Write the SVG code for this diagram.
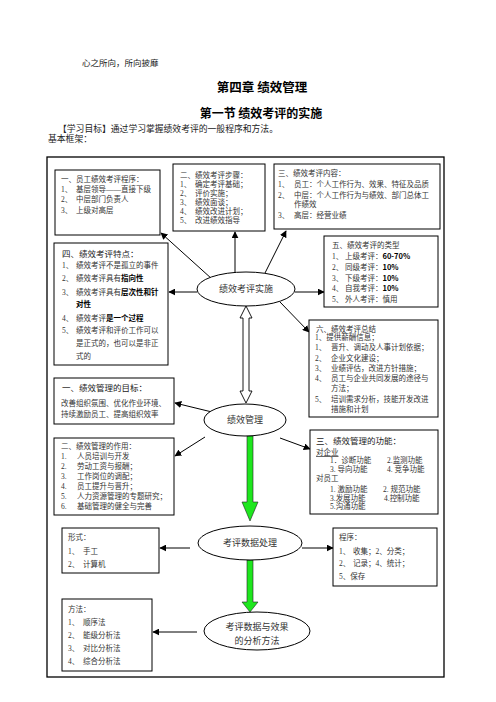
<svg xmlns="http://www.w3.org/2000/svg" width="496" height="702" viewBox="0 0 496 702">
<style>
.t{font-family:"Liberation Serif","Noto Sans CJK SC",serif;fill:#333;font-size:7.5px}
.h{font-family:"Liberation Serif","Noto Sans CJK SC",serif;fill:#222;font-size:8.5px}
.b{font-weight:bold;fill:#000;font-family:"Noto Sans CJK SC",sans-serif}
.box{fill:#fff;stroke:#000;stroke-width:1}
.ell{fill:#fff;stroke:#000;stroke-width:1}
.c{stroke:#000;stroke-width:1;fill:none;marker-end:url(#ah)}
.g{fill:#1ee61e;stroke:#222;stroke-width:0.6}
.lbl{font-family:"Liberation Serif","Noto Sans CJK SC",serif;fill:#333;font-size:9px;text-anchor:middle}
</style>
<defs>
<marker id="ah" viewBox="0 0 10 10" refX="9" refY="5" markerWidth="7" markerHeight="7" markerUnits="userSpaceOnUse" orient="auto">
<path d="M0,0 L10,5 L0,10 z" fill="#000"/>
</marker>
</defs>
<rect width="496" height="702" fill="#fff"/>

<g id="header">
<text x="82" y="66" style="font-family:'Noto Sans CJK SC',sans-serif;font-size:8.5px;fill:#222">心之所向，所向披靡</text>
<text x="262" y="92" text-anchor="middle" style="font-family:'Noto Sans CJK SC',sans-serif;font-size:12.5px;font-weight:bold;fill:#000">第四章 绩效管理</text>
<text x="261" y="118" text-anchor="middle" style="font-family:'Noto Sans CJK SC',sans-serif;font-size:12px;font-weight:bold;fill:#000">第一节 绩效考评的实施</text>
<text x="58" y="132" style="font-family:'Liberation Serif','Noto Sans CJK SC',serif;font-size:8.8px;fill:#222">【学习目标】通过学习掌握绩效考评的一般程序和方法。</text>
<text x="48" y="142" style="font-family:'Liberation Serif','Noto Sans CJK SC',serif;font-size:8.8px;fill:#222">基本框架：</text>
</g>

<rect id="frame" x="47" y="157" width="397" height="520" fill="none" stroke="#000" stroke-width="1.3"/>

<g id="connectors">
<line class="c" x1="212" y1="279" x2="161" y2="233"/>
<line class="c" x1="235" y1="273" x2="235" y2="232"/>
<line class="c" x1="264" y1="275" x2="286" y2="231"/>
<line class="c" x1="197" y1="292" x2="169" y2="292"/>
<line class="c" x1="295" y1="292" x2="324" y2="292"/>
<line class="c" x1="280" y1="302" x2="309" y2="332"/>
<line class="c" x1="212" y1="412" x2="175" y2="403"/>
<line class="c" x1="205" y1="437" x2="175" y2="456"/>
<line class="c" x1="280" y1="438" x2="310" y2="449"/>
<line class="c" x1="190" y1="548" x2="160" y2="548"/>
<line class="c" x1="302" y1="548" x2="333" y2="548"/>
<line class="c" x1="197" y1="632" x2="153" y2="632"/>
<polygon points="246,306 240,318 243,318 243,391 240,391 246,403 252,391 249,391 249,318 252,318" fill="#fff" stroke="#000" stroke-width="0.9"/>
<polygon class="g" points="247,436 253,436 253,502 258,502 250,521 242,502 247,502"/>
<polygon class="g" points="247,560 253,560 253,602 258,602 250,612 242,602 247,602"/>
</g>

<g id="box1">
<rect class="box" x="55" y="170" width="105" height="65"/>
<text class="t" x="61" y="182">一、员工绩效考评程序：</text>
<text class="t" x="61" y="192">1、</text><text class="t" x="76" y="192">基层领导——直接下级</text>
<text class="t" x="61" y="202">2、</text><text class="t" x="76" y="202">中层部门负责人</text>
<text class="t" x="61" y="213">3、</text><text class="t" x="76" y="213">上级对高层</text>
</g>

<g id="box2">
<rect class="box" x="173" y="164" width="92" height="67"/>
<text class="t" x="180" y="178">二、绩效考评步骤：</text>
<text class="t" x="180" y="187">1、</text><text class="t" x="195" y="187">确定考评基础；</text>
<text class="t" x="180" y="196">2、</text><text class="t" x="195" y="196">评价实施；</text>
<text class="t" x="180" y="205">3、</text><text class="t" x="195" y="205">绩效面谈；</text>
<text class="t" x="180" y="214">4、</text><text class="t" x="195" y="214">绩效改进计划；</text>
<text class="t" x="180" y="223">5、</text><text class="t" x="195" y="223">改进绩效指导</text>
</g>

<g id="box3">
<rect class="box" x="274" y="164" width="166" height="65"/>
<text class="t" x="278" y="176">三、绩效考评内容：</text>
<text class="t" x="278" y="187">1、</text><text class="t" x="294" y="187">员工：个人工作行为、效果、特征及品质</text>
<text class="t" x="278" y="198">2、</text><text class="t" x="294" y="198">中层：个人工作行为与绩效、部门总体工</text>
<text class="t" x="294" y="207">作绩效</text>
<text class="t" x="278" y="218">3、</text><text class="t" x="294" y="218">高层：经营业绩</text>
</g>

<g id="box4">
<rect class="box" x="54" y="243" width="114" height="122"/>
<text class="h" x="62" y="257">四、绩效考评特点：</text>
<text class="t" x="62" y="268">1、</text><text class="t" x="76" y="268">绩效考评不是孤立的事件</text>
<text class="t" x="62" y="281">2、</text><text class="t" x="76" y="281">绩效考评具有<tspan class="b">指向性</tspan></text>
<text class="t" x="62" y="295">3、</text><text class="t" x="76" y="295">绩效考评具有<tspan class="b">层次性和针</tspan></text>
<text class="t b" x="76" y="307">对性</text>
<text class="t" x="62" y="321">4、</text><text class="t" x="76" y="321">绩效考评<tspan class="b">是一个过程</tspan></text>
<text class="t" x="62" y="333">5、</text><text class="t" x="76" y="333">绩效考评和评价工作可以</text>
<text class="t" x="76" y="346">是正式的，也可以是非正</text>
<text class="t" x="76" y="359">式的</text>
</g>

<g id="n_kpss">
<ellipse class="ell" cx="246" cy="289" rx="49" ry="17"/>
<text class="lbl" x="246" y="292">绩效考评实施</text>
</g>

<g id="box5">
<rect class="box" x="324" y="236" width="114" height="71"/>
<text class="t" x="332" y="248">五、绩效考评的类型</text>
<text class="t" x="332" y="259">1、</text><text class="t" x="345" y="259">上级考评：<tspan class="b">60-70%</tspan></text>
<text class="t" x="332" y="270">2、</text><text class="t" x="345" y="270">同级考评：<tspan class="b">10%</tspan></text>
<text class="t" x="332" y="281">3、</text><text class="t" x="345" y="281">下级考评：<tspan class="b">10%</tspan></text>
<text class="t" x="332" y="291">4、</text><text class="t" x="345" y="291">自我考评：<tspan class="b">10%</tspan></text>
<text class="t" x="332" y="302">5、</text><text class="t" x="345" y="302">外人考评：慎用</text>
</g>

<g id="box6">
<rect class="box" x="309" y="320" width="129" height="97"/>
<text class="t" x="316" y="332">六、绩效考评总结</text>
<text class="t" x="315" y="340">1、提供薪酬信息；</text>
<text class="t" x="315" y="350">1、</text><text class="t" x="331" y="350">晋升、调动及人事计划依据；</text>
<text class="t" x="315" y="361">2、</text><text class="t" x="331" y="361">企业文化建设；</text>
<text class="t" x="315" y="371">3、</text><text class="t" x="331" y="371">业绩评估，改进方针措施；</text>
<text class="t" x="315" y="381">4、</text><text class="t" x="331" y="381">员工与企业共同发展的途径与</text>
<text class="t" x="331" y="391">方法；</text>
<text class="t" x="315" y="402">5、</text><text class="t" x="331" y="402">培训需求分析，技能开发改进</text>
<text class="t" x="331" y="412">措施和计划</text>
</g>

<g id="box_goal">
<rect class="box" x="54" y="378" width="120" height="46"/>
<text class="h" x="62" y="391">一、绩效管理的目标：</text>
<text class="t" x="61" y="406">改善组织氛围、优化作业环境、</text>
<text class="t" x="61" y="417">持续激励员工、提高组织效率</text>
</g>

<g id="n_jxgl">
<ellipse class="ell" cx="245" cy="420" rx="41" ry="16"/>
<text class="lbl" x="245" y="423">绩效管理</text>
</g>

<g id="box_role">
<rect class="box" x="54" y="438" width="120" height="77"/>
<text class="t" x="61" y="449">二、绩效管理的作用：</text>
<text class="t" x="61" y="459">1.</text><text class="t" x="77" y="459">人员培训与开发</text>
<text class="t" x="61" y="469">2.</text><text class="t" x="77" y="469">劳动工资与报酬；</text>
<text class="t" x="61" y="479">3.</text><text class="t" x="77" y="479">工作岗位的调配；</text>
<text class="t" x="61" y="489">4.</text><text class="t" x="77" y="489">员工提升与晋升；</text>
<text class="t" x="61" y="499">5.</text><text class="t" x="77" y="499">人力资源管理的专题研究；</text>
<text class="t" x="61" y="509">6.</text><text class="t" x="77" y="509">基础管理的健全与完善</text>
</g>

<g id="box_func">
<rect class="box" x="310" y="430" width="128" height="84"/>
<text class="h" x="316" y="444">三、绩效管理的功能：</text>
<text class="t" x="316" y="455" text-decoration="underline">对企业</text>
<text class="t" x="330" y="463">1．诊断功能</text><text class="t" x="387" y="463">2.监测功能</text>
<text class="t" x="330" y="472">3. 导向功能</text><text class="t" x="387" y="472">4.  竞争功能</text>
<text class="t" x="316" y="481">对员工</text>
<text class="t" x="330" y="492">1. 激励功能</text><text class="t" x="383" y="492">2.  规范功能</text>
<text class="t" x="330" y="501">3.发展功能</text><text class="t" x="384" y="501">4.控制功能</text>
<text class="t" x="330" y="509">5.沟通功能</text>
</g>

<g id="n_data">
<ellipse class="ell" cx="250" cy="543" rx="52" ry="17"/>
<text class="lbl" x="250" y="546">考评数据处理</text>
</g>

<g id="box_form">
<rect class="box" x="62" y="528" width="97" height="45"/>
<text class="t" x="68" y="540">形式：</text>
<text class="t" x="68" y="554">1、</text><text class="t" x="83" y="554">手工</text>
<text class="t" x="68" y="567">2、</text><text class="t" x="83" y="567">计算机</text>
</g>

<g id="box_proc">
<rect class="box" x="333" y="528" width="104" height="58"/>
<text class="t" x="339" y="540">程序：</text>
<text class="t" x="339" y="554">1、</text><text class="t" x="353" y="554">收集；2、分类；</text>
<text class="t" x="339" y="566">2、</text><text class="t" x="353" y="566">记录；4、统计；</text>
<text class="t" x="339" y="579">5、保存</text>
</g>

<g id="n_anal">
<ellipse class="ell" cx="257" cy="631" rx="53" ry="19"/>
<text class="lbl" x="257" y="630">考评数据与效果</text>
<text class="lbl" x="257" y="644">的分析方法</text>
</g>

<g id="box_method">
<rect class="box" x="62" y="599" width="90" height="72"/>
<text class="t" x="68" y="612">方法：</text>
<text class="t" x="68" y="625">1、</text><text class="t" x="83" y="625">顺序法</text>
<text class="t" x="68" y="638">2、</text><text class="t" x="83" y="638">能级分析法</text>
<text class="t" x="68" y="651">3、</text><text class="t" x="83" y="651">对比分析法</text>
<text class="t" x="68" y="664">4、</text><text class="t" x="83" y="664">综合分析法</text>
</g>
</svg>
